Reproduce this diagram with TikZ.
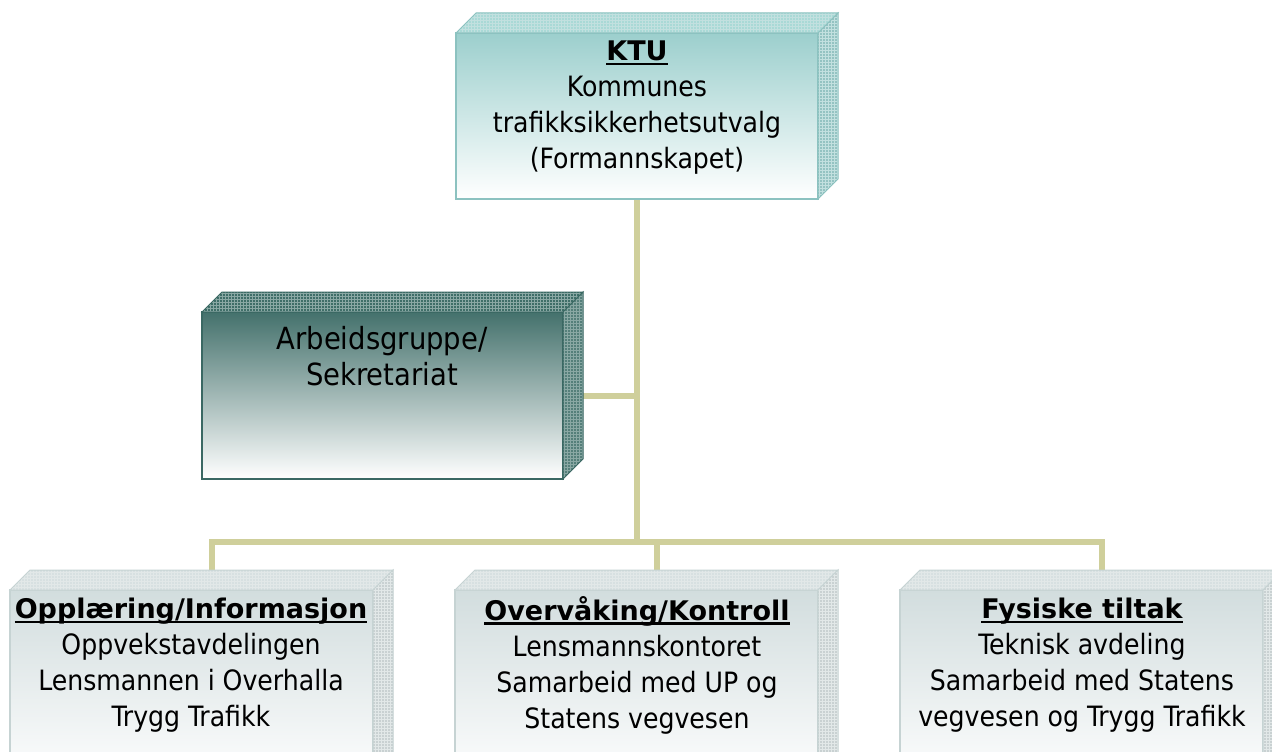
\documentclass[tikz,border=0pt]{standalone}
\usepackage{fontspec}
\setmainfont{DejaVu Sans Condensed}
\newfontfamily\widefont{DejaVu Sans}
\usetikzlibrary{calc,patterns}
\definecolor{connc}{HTML}{CFCF9B}
\definecolor{ktuA}{HTML}{9CCFCD}
\definecolor{ktuTop}{HTML}{A9D9D6}
\definecolor{ktuSide}{HTML}{94C3C2}
\definecolor{ktuGrid}{HTML}{C2E0DF}
\definecolor{ktuLine}{HTML}{8CC2C0}
\definecolor{arbA}{HTML}{44716C}
\definecolor{arbB}{HTML}{B9C7C5}
\definecolor{arbTop}{HTML}{3F6E68}
\definecolor{arbSide}{HTML}{557F7A}
\definecolor{arbGrid}{HTML}{8AA8A4}
\definecolor{arbLine}{HTML}{3A6863}
\definecolor{botA}{HTML}{D2DDDE}
\definecolor{botTop}{HTML}{D7E0E1}
\definecolor{botSide}{HTML}{C9D1D2}
\definecolor{botGrid}{HTML}{E2E8E8}
\definecolor{botLine}{HTML}{C6D3D3}
\newsavebox\ulbox
\newcommand{\myul}[1]{\sbox\ulbox{#1}\rlap{\rule[-4.5pt]{\wd\ulbox}{2.2pt}}\usebox\ulbox}
\newcommand{\ttl}[1]{{\fontsize{27}{36}\widefont\bfseries\myul{#1}}}
\newcommand{\faces}[5]{%
  \path[preaction={fill=#2}, pattern=grid, pattern color=#4, draw=#5, line width=1pt]
    (#1.north west) -- ++(20,-20) -- ($(#1.north east)+(20,-20)$) -- (#1.north east) -- cycle;
  \path[preaction={fill=#3}, pattern=grid, pattern color=#4, draw=#5, line width=1pt]
    (#1.north east) -- ++(20,-20) -- ($(#1.south east)+(20,-20)$) -- (#1.south east) -- cycle;
}
\tikzset{
  front/.style={rectangle, inner sep=0pt, outer sep=0pt, anchor=north west, line width=1.2pt},
  ktufront/.style={front, draw=ktuLine, top color=ktuA, bottom color=white},
  arbfront/.style={front, draw=arbLine, top color=arbA, middle color=arbB, bottom color=white},
  botfront/.style={front, draw=botLine, top color=botA, bottom color=white},
  txt/.style={align=center, inner sep=0pt, font=\fontsize{28}{36}\selectfont, text=black},
  bigtxt/.style={txt, font=\fontsize{30.5}{36.5}\selectfont},
  conn/.style={draw=connc, line width=6pt}
}
\begin{document}
\begin{tikzpicture}[x=1pt,y=-1pt]
\clip (0,0) rectangle (1272,752);
\fill[white] (0,0) rectangle (1272,752);
% fronts (named, used by connectors)
\path
  node[ktufront, minimum width=362pt, minimum height=166pt] (ktu) at (456,33) {}
  node[arbfront, minimum width=361pt, minimum height=167pt] (arb) at (202,312) {}
  node[botfront, minimum width=363pt, minimum height=200pt] (opp) at (10,590) {}
  node[botfront, minimum width=363pt, minimum height=200pt] (ovr) at (455,590) {}
  node[botfront, minimum width=363pt, minimum height=200pt] (fys) at (900,590) {};
% connectors (behind the boxes)
\coordinate (bus) at (0,542);
\coordinate (oppT) at ($(opp.north)+(20,-20)$);
\coordinate (ovrT) at ($(ovr.north)+(20,-20)$);
\coordinate (fysT) at ($(fys.north)+(20,-20)$);
\coordinate (arbB) at ($(arb.east)+(20,0)$);
\draw[conn] (ktu.south) -- (ktu.south |- bus);
\draw[conn] (arbB) -- (arbB -| ktu.south);
\draw[conn, line join=miter] (oppT) -- (oppT |- bus) -- (fysT |- bus) -- (fysT);
\draw[conn] (ovrT |- bus) -- (ovrT);
% boxes redrawn on top
\node[ktufront, minimum width=362pt, minimum height=166pt] at (456,33) {};
\faces{ktu}{ktuTop}{ktuSide}{ktuGrid}{ktuLine}
\node[arbfront, minimum width=361pt, minimum height=167pt] at (202,312) {};
\faces{arb}{arbTop}{arbSide}{arbGrid}{arbLine}
\node[botfront, minimum width=363pt, minimum height=200pt] at (10,590) {};
\faces{opp}{botTop}{botSide}{botGrid}{botLine}
\node[botfront, minimum width=363pt, minimum height=200pt] at (455,590) {};
\faces{ovr}{botTop}{botSide}{botGrid}{botLine}
\node[botfront, minimum width=363pt, minimum height=200pt] at (900,590) {};
\faces{fys}{botTop}{botSide}{botGrid}{botLine}
% texts
\node[txt] (ktut) at (637,108) {\ttl{KTU}\\Kommunes\\trafikksikkerhetsutvalg\\(Formannskapet)};
\node[bigtxt] (arbt) at (382,356) {Arbeidsgruppe/\\Sekretariat};
\node[txt] (oppt) at (191,665) {\ttl{Opplæring/Informasjon}\\Oppvekstavdelingen\\Lensmannen i Overhalla\\Trygg Trafikk};
\node[txt] (ovrt) at (637,665) {\ttl{Overvåking/Kontroll}\\Lensmannskontoret\\Samarbeid med UP og\\Statens vegvesen};
\node[txt] (fyst) at (1082,665) {\ttl{Fysiske tiltak}\\Teknisk avdeling\\Samarbeid med Statens\\vegvesen og Trygg Trafikk};
\end{tikzpicture}
\end{document}
